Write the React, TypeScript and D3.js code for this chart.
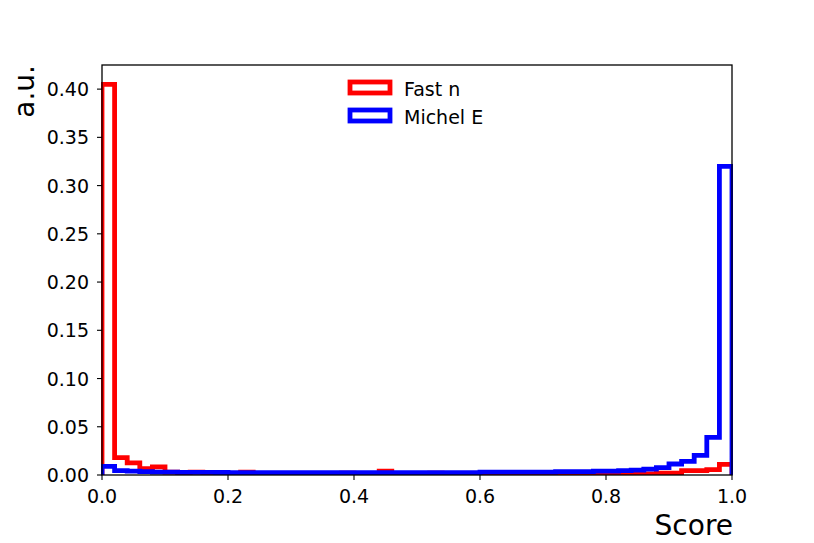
import React from "react";
import * as d3 from "d3";

const binEdgesStart = 0;
const binEdgesEnd = 1;
const seriesNames = ["Fast n", "Michel E"];
const seriesColors = ["#ff0000", "#0000ff"];

const fastN = [
  0.405, 0.018, 0.0125, 0.0065, 0.0085, 0.003, 0.002, 0.003, 0.002, 0.002,
  0.0015, 0.003, 0.0015, 0.001, 0.001, 0.001, 0.001, 0.001, 0.001, 0.002,
  0.001, 0.001, 0.004, 0.001, 0.001, 0.001, 0.002, 0.001, 0.001, 0.001,
  0.001, 0.001, 0.001, 0.001, 0.001, 0.001, 0.001, 0.001, 0.001, 0.001,
  0.001, 0.0012, 0.0012, 0.0012, 0.002, 0.002, 0.0045, 0.0045, 0.0055, 0.011,
];

const michelE = [
  0.009, 0.0045, 0.004, 0.0035, 0.003, 0.003, 0.0028, 0.0028, 0.0027, 0.0026,
  0.0025, 0.0025, 0.0025, 0.0025, 0.0025, 0.0025, 0.0025, 0.0025, 0.0025, 0.0025,
  0.0025, 0.0025, 0.0025, 0.0025, 0.0025, 0.0025, 0.0025, 0.0025, 0.0025, 0.0025,
  0.003, 0.003, 0.003, 0.003, 0.003, 0.003, 0.0035, 0.0035, 0.0035, 0.004,
  0.004, 0.0045, 0.005, 0.006, 0.0076, 0.0114, 0.0142, 0.0204, 0.039, 0.32,
];

const xTicks = [0, 0.2, 0.4, 0.6, 0.8, 1.0];
const yTicks = [0, 0.05, 0.1, 0.15, 0.2, 0.25, 0.3, 0.35, 0.4];
const xLabel = "Score";
const yLabel = "a.u.";

const W = 814;
const H = 543;
const M = { left: 102, right: 732, top: 65, bottom: 475 };

export default function App() {
  const x = d3.scaleLinear().domain([binEdgesStart, binEdgesEnd]).range([M.left, M.right]);
  const y = d3.scaleLinear().domain([0, 0.425]).range([M.bottom, M.top]);

  const stepPath = (vals: number[]) => {
    const n = vals.length;
    const w = (binEdgesEnd - binEdgesStart) / n;
    const pts: [number, number][] = [[binEdgesStart, 0]];
    vals.forEach((v, i) => {
      pts.push([binEdgesStart + i * w, v]);
      pts.push([binEdgesStart + (i + 1) * w, v]);
    });
    pts.push([binEdgesEnd, 0]);
    return d3.line<[number, number]>().x((d) => x(d[0])).y((d) => y(d[1]))(pts) || "";
  };

  const font = "'DejaVu Sans', sans-serif";
  const tickFs = 19;
  const series = [fastN, michelE];

  return (
    <svg width={W} height={H} style={{ position: "absolute", left: 0, top: 0, background: "#fff" }}>
      <defs>
        <clipPath id="plotclip">
          <rect x={M.left - 1} y={M.top} width={M.right - M.left + 2} height={M.bottom - M.top} />
        </clipPath>
      </defs>
      <rect x={0} y={0} width={W} height={H} fill="#fff" />
      <g clipPath="url(#plotclip)">
        {series.map((s, i) => (
          <path key={i} d={stepPath(s)} fill="none" stroke={seriesColors[i]} strokeWidth={4.8} strokeLinejoin="miter" />
        ))}
      </g>
      <rect x={M.left} y={M.top} width={M.right - M.left} height={M.bottom - M.top} fill="none" stroke="#000" strokeWidth={1.3} />
      {xTicks.map((t) => (
        <g key={"x" + t}>
          <line x1={x(t)} x2={x(t)} y1={M.bottom} y2={M.bottom + 5} stroke="#000" strokeWidth={1.1} />
          <text x={x(t)} y={M.bottom + 28} textAnchor="middle" fontFamily={font} fontSize={tickFs} fill="#000">
            {d3.format(".1f")(t)}
          </text>
        </g>
      ))}
      {yTicks.map((t) => (
        <g key={"y" + t}>
          <line x1={M.left - 5} x2={M.left} y1={y(t)} y2={y(t)} stroke="#000" strokeWidth={1.1} />
          <text x={M.left - 13} y={y(t) + 7} textAnchor="end" fontFamily={font} fontSize={tickFs} fill="#000">
            {d3.format(".2f")(t)}
          </text>
        </g>
      ))}
      <text x={M.right + 1} y={535} textAnchor="end" fontFamily={font} fontSize={28} fill="#000">
        {xLabel}
      </text>
      <text transform={`translate(34, ${M.top}) rotate(-90)`} textAnchor="end" fontFamily={font} fontSize={28} fill="#000">
        {yLabel}
      </text>
      {seriesNames.map((name, i) => (
        <g key={name}>
          <rect x={350} y={82 + i * 28} width={40} height={11} fill="none" stroke={seriesColors[i]} strokeWidth={4.8} />
          <text x={404} y={96 + i * 28} fontFamily={font} fontSize={tickFs} fill="#000">
            {name}
          </text>
        </g>
      ))}
    </svg>
  );
}
